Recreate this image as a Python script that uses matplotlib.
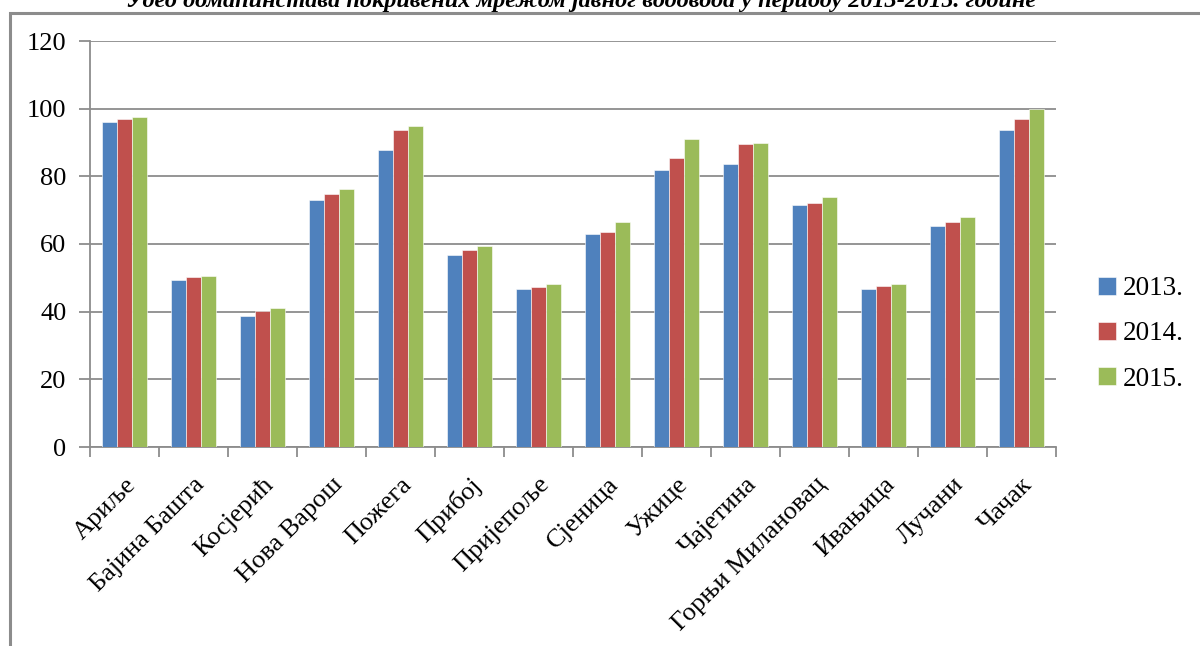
import matplotlib
matplotlib.use("Agg")
import matplotlib.pyplot as plt
import matplotlib.patches as mpatches
import numpy as np

categories = ["Ариље", "Бајина Башта", "Косјерић", "Нова Варош", "Пожега", "Прибој",
              "Пријепоље", "Сјеница", "Ужице", "Чајетина", "Горњи Милановац",
              "Ивањица", "Лучани", "Чачак"]
v2013 = [96.1, 49.5, 38.8, 73.0, 87.7, 56.7, 46.8, 63.1, 81.8, 83.5, 71.4, 46.8, 65.4, 93.8]
v2014 = [96.8, 50.1, 40.3, 74.9, 93.8, 58.1, 47.2, 63.5, 85.5, 89.7, 72.2, 47.5, 66.6, 96.8]
v2015 = [97.5, 50.5, 41.1, 76.4, 95.0, 59.3, 48.3, 66.5, 91.1, 90.0, 74.0, 48.3, 68.1, 100.0]
series_labels = ["2013.", "2014.", "2015."]
colors = ["#4F81BD", "#C0504D", "#9BBB59"]
yticks = [0, 20, 40, 60, 80, 100, 120]
title = "Удео домаћинстава покривених мрежом јавног водовода у периоду 2013-2015. године"

plt.rcParams['font.family'] = ['Liberation Serif', 'DejaVu Serif']

W, H = 1200, 646
FS = 19
fig = plt.figure(figsize=(W / 100, H / 100), dpi=100)
ax = fig.add_axes([90 / W, 1 - 447 / H, (1056 - 90) / W, (447 - 41) / H])

x = np.arange(len(categories))
bw = 0.222
handles = []
for k, (vals, col, lab) in enumerate(zip([v2013, v2014, v2015], colors, series_labels)):
    b = ax.bar(x + (k - 1) * bw, vals, width=bw, color=col, label=lab,
               edgecolor="white", linewidth=0.4, zorder=3)
    handles.append(b)

ax.set_xlim(-0.5, len(categories) - 0.5)
ax.set_ylim(0, 120)
ax.set_yticks(yticks)
ax.set_yticklabels([str(t) for t in yticks], fontsize=FS)
ax.grid(axis='y', color='#8c8c8c', linewidth=1.3, zorder=0)
ax.set_axisbelow(True)

ax.set_xticks(np.arange(-0.5, len(categories), 1.0))
ax.set_xticklabels([])
ax.set_xticks(x, minor=True)
ax.set_xticklabels(categories, minor=True, rotation=45, ha='right', va='top',
                   rotation_mode='anchor', fontsize=FS)
ax.tick_params(axis='x', which='minor', length=0, pad=19)
ax.tick_params(axis='x', which='major', length=7, width=1.3, color='#8c8c8c', direction='out')
ax.tick_params(axis='y', length=8, width=1.3, color='#8c8c8c', direction='out', pad=9)

for s in ['top', 'right']:
    ax.spines[s].set_visible(False)
for s in ['left', 'bottom']:
    ax.spines[s].set_color('#8c8c8c')
    ax.spines[s].set_linewidth(1.3)

leg = fig.legend(handles=handles, labels=series_labels, loc='center left',
                 bbox_to_anchor=(1098 / W, 1 - 334 / H), frameon=False,
                 fontsize=FS + 0.5, handlelength=0.65, handleheight=0.65,
                 handletextpad=0.25, labelspacing=0.75, borderpad=0, borderaxespad=0)

border = mpatches.Rectangle((10 / W, -0.1), 1.2, 1.1 - 12.5 / H, transform=fig.transFigure,
                            fill=False, edgecolor='#8c8c8c', linewidth=2.2, clip_on=False)
fig.patches.append(border)

fig.text(581 / W, 1 - 7 / H, title, ha='center', va='baseline', fontsize=17.5,
         fontweight='bold', fontstyle='italic')

fig.savefig("out.png", dpi=100)
